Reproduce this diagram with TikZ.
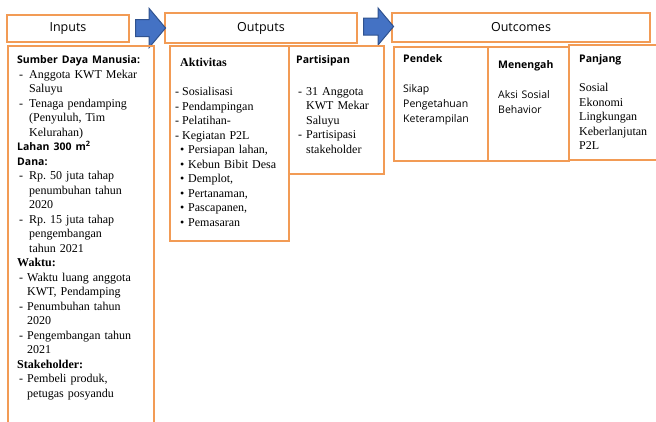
\documentclass[tikz,border=0pt]{standalone}
\usepackage{fontspec}
\setmainfont{Liberation Serif}
\setsansfont{Open Sans}
\usepackage{xcolor}
\usetikzlibrary{shapes.arrows, positioning}
\definecolor{boxorange}{RGB}{242,155,85}
\definecolor{arrowblue}{RGB}{68,114,196}
\definecolor{arrowedge}{RGB}{47,82,143}
\newcommand{\shead}[1]{\par\noindent{\sffamily\bfseries\fontsize{10.5}{14.5}\selectfont #1}}
\newcommand{\bhead}[1]{\par\noindent\textbf{#1}}
\newcommand{\dashitem}[2][12pt]{\par\noindent\makebox[#1][l]{\hspace*{2pt}-}#2}
\newcommand{\cont}[2][12pt]{\par\noindent\hspace*{#1}#2}
\newcommand{\dotitem}[1]{\par\noindent\hspace*{7pt}\makebox[8pt][l]{\textbullet}#1}

\begin{document}
\begin{tikzpicture}[
        x=1pt, y=1pt,
        headbox/.style={rectangle, draw=boxorange, line width=2pt, inner sep=0pt, font=\sffamily\fontsize{12.5}{15}\selectfont},
        bodybox/.style={rectangle, draw=boxorange, line width=2pt, inner sep=0pt, anchor=north west},
        txt/.style={anchor=north west, inner sep=0pt, align=left, font=\fontsize{12}{14.5}\selectfont},
        sanstxt/.style={txt, font=\sffamily\fontsize{10.5}{15}\selectfont},
        blockarrow/.style={single arrow, draw=arrowedge, fill=arrowblue, line width=1pt, single arrow head extend=11pt, single arrow tip angle=100, inner xsep=0pt, inner ysep=8pt, minimum height=30pt}
    ]
        \useasboundingbox (0,0) rectangle (656,-421);

        % Header boxes
        \node[headbox, minimum width=122pt, minimum height=27pt] (inputs) at (68,-28.5) {Inputs};
        \node[headbox, minimum width=192pt, minimum height=30pt] (outputs) at (261,-28) {Outputs};
        \node[headbox, minimum width=258pt, minimum height=29pt] (outcomes) at (521,-27.5) {Outcomes};

        % Arrows
        \node[blockarrow] (arrin) at (147,-28) {};
        \node[blockarrow, single arrow head extend=10pt] (arrout) at (375,-26.5) {};

        % Body boxes
        \node[bodybox, minimum width=146pt, minimum height=390pt] (inbody) at (7,-45) {};
        \node[bodybox, minimum width=119pt, minimum height=195pt] (aktivitas) at (169,-45) {};
        \node[bodybox, minimum width=95pt, minimum height=128pt] (partisipan) at (288,-45) {};
        \node[bodybox, minimum width=94pt, minimum height=114pt] (pendek) at (393,-46) {};
        \node[bodybox, minimum width=81pt, minimum height=114pt] (menengah) at (487,-46) {};
        \node[bodybox, minimum width=102pt, minimum height=115pt] (panjang) at (568,-44) {};

        % Inputs
        \node[txt, text width=135pt, below right=4pt and 10pt of inbody.north west] (intxt) {%
            \shead{Sumber Daya Manusia:}
            \dashitem{Anggota KWT Mekar}\cont{Saluyu}
            \dashitem{Tenaga pendamping}\cont{(Penyuluh, Tim}\cont{Kelurahan)}
            \shead{Lahan 300 m\textsuperscript{2}}
            \shead{Dana:}
            \dashitem{Rp.\ 50 juta tahap}\cont{penumbuhan tahun}\cont{2020}
            \dashitem{Rp.\ 15 juta tahap}\cont{pengembangan}\cont{tahun 2021}
            \bhead{Waktu:}
            \dashitem[10pt]{Waktu luang anggota}\cont[10pt]{KWT, Pendamping}
            \dashitem[10pt]{Penumbuhan tahun}\cont[10pt]{2020}
            \dashitem[10pt]{Pengembangan tahun}\cont[10pt]{2021}
            \bhead{Stakeholder:}
            \dashitem[10pt]{Pembeli produk,}\cont[10pt]{petugas posyandu}};

        % Outputs
        \node[txt, text width=112pt, below right=7pt and 4pt of aktivitas.north west] (akttxt) {%
            \par\noindent\hspace*{7pt}\textbf{Aktivitas}\par\vspace{14.5pt}
            \dashitem[9pt]{Sosialisasi}
            \dashitem[9pt]{Pendampingan}
            \dashitem[9pt]{Pelatihan-}
            \dashitem[9pt]{Kegiatan P2L}
            \dotitem{Persiapan lahan,}
            \dotitem{Kebun Bibit Desa}
            \dotitem{Demplot,}
            \dotitem{Pertanaman,}
            \dotitem{Pascapanen,}
            \dotitem{Pemasaran}};
        \node[txt, text width=88pt, below right=4pt and 8pt of partisipan.north west] (partxt) {%
            \shead{Partisipan}\par\vspace{17pt}
            \dashitem[10pt]{31 Anggota}\cont[10pt]{KWT Mekar}\cont[10pt]{Saluyu}
            \dashitem[10pt]{Partisipasi}\cont[10pt]{stakeholder}};

        % Outcomes
        \node[sanstxt, text width=85pt, below right=8pt and 10pt of pendek.north west] (pendektxt) {%
            \textbf{Pendek}\\[15pt]Sikap\\Pengetahuan\\Keterampilan};
        \node[sanstxt, text width=75pt, below right=14pt and 11pt of menengah.north west] (menengahtxt) {%
            \textbf{Menengah}\\[15pt]Aksi Sosial\\Behavior};
        \node[txt, text width=85pt, below right=4pt and 11pt of panjang.north west] (panjangtxt) {%
            \shead{Panjang}\par\vspace{14.5pt}
            \noindent Sosial\\Ekonomi\\Lingkungan\\Keberlanjutan\\P2L};
    \end{tikzpicture}
\end{document}
